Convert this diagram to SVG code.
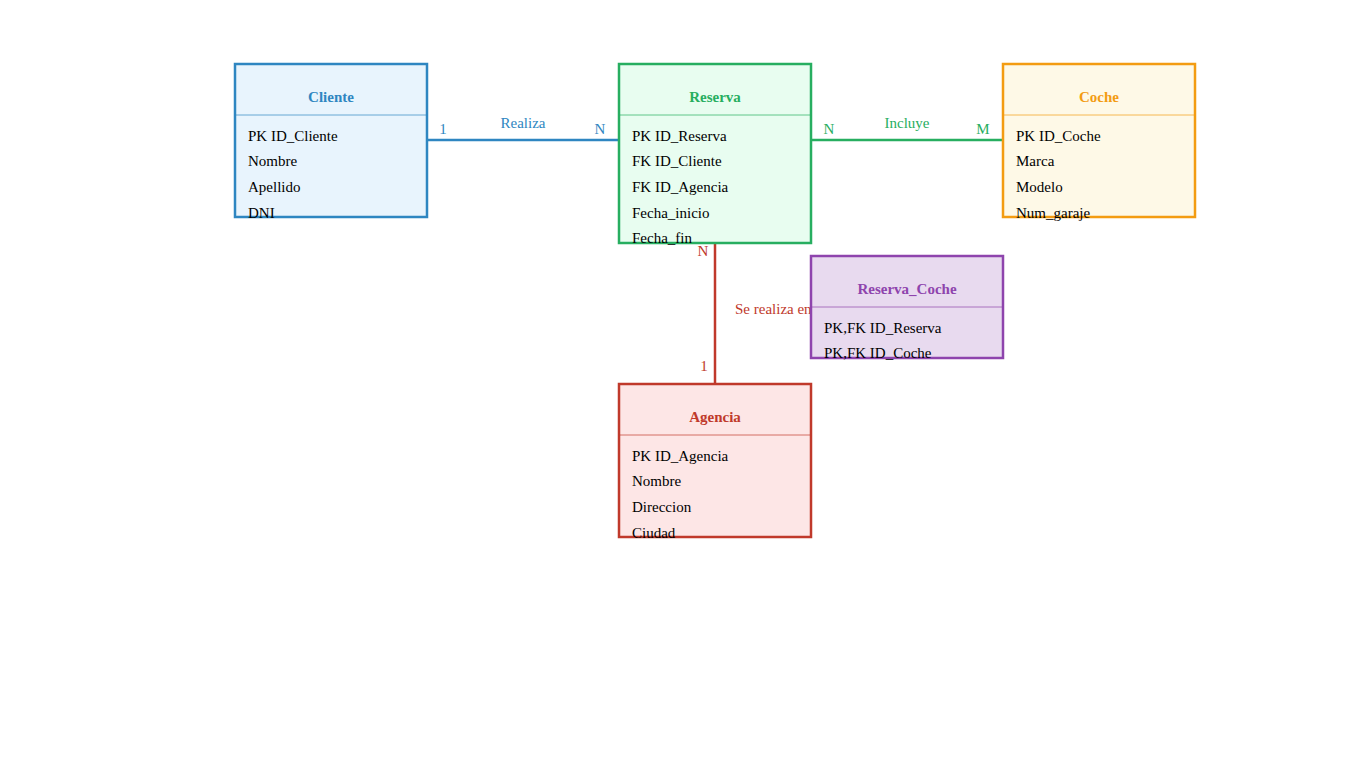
<svg xmlns="http://www.w3.org/2000/svg" width="1366" height="768" viewBox="0 0 1366 768">
<style>
text{font-family:"Liberation Serif","Times New Roman",serif;font-size:15px}
.t{font-weight:bold;text-anchor:middle}
.a{fill:#000}
.box{stroke-width:2.5}
.div{stroke-width:1}
.lbl{text-anchor:middle}
</style>
<rect width="1366" height="768" fill="#fff"/>
<g id="connectors">
<line x1="427" y1="140" x2="619" y2="140" stroke="#2E86C1" stroke-width="2.5"/>
<text x="443" y="134" fill="#2E86C1" class="lbl">1</text>
<text x="523" y="128" fill="#2E86C1" class="lbl">Realiza</text>
<text x="600" y="134" fill="#2E86C1" class="lbl">N</text>
<line x1="811" y1="140" x2="1003" y2="140" stroke="#27AE60" stroke-width="2.5"/>
<text x="829" y="134" fill="#27AE60" class="lbl">N</text>
<text x="907" y="128" fill="#27AE60" class="lbl">Incluye</text>
<text x="983" y="134" fill="#27AE60" class="lbl">M</text>
<line x1="715" y1="243" x2="715" y2="384" stroke="#C0392B" stroke-width="2.5"/>
<text x="703" y="256" fill="#C0392B" class="lbl">N</text>
<text x="704" y="371" fill="#C0392B" class="lbl">1</text>
<text x="735" y="314" fill="#C0392B">Se realiza en</text>
</g>
<g id="cliente">
<rect x="235" y="64" width="192" height="153" fill="#E8F4FD" stroke="#2E86C1" class="box"/>
<line x1="236" y1="115" x2="426" y2="115" stroke="#2E86C1" stroke-opacity="0.7" class="div"/>
<text x="331" y="102" fill="#2E86C1" class="t">Cliente</text>
<text x="248" y="141" class="a">PK ID_Cliente</text>
<text x="248" y="166" class="a">Nombre</text>
<text x="248" y="192" class="a">Apellido</text>
<text x="248" y="218" class="a">DNI</text>
</g>
<g id="reserva">
<rect x="619" y="64" width="192" height="179" fill="#E8FDF0" stroke="#27AE60" class="box"/>
<line x1="620" y1="115" x2="810" y2="115" stroke="#27AE60" stroke-opacity="0.7" class="div"/>
<text x="715" y="102" fill="#27AE60" class="t">Reserva</text>
<text x="632" y="141" class="a">PK ID_Reserva</text>
<text x="632" y="166" class="a">FK ID_Cliente</text>
<text x="632" y="192" class="a">FK ID_Agencia</text>
<text x="632" y="218" class="a">Fecha_inicio</text>
<text x="632" y="243" class="a">Fecha_fin</text>
</g>
<g id="coche">
<rect x="1003" y="64" width="192" height="153" fill="#FEF9E7" stroke="#F39C12" class="box"/>
<line x1="1004" y1="115" x2="1194" y2="115" stroke="#F39C12" stroke-opacity="0.7" class="div"/>
<text x="1099" y="102" fill="#F39C12" class="t">Coche</text>
<text x="1016" y="141" class="a">PK ID_Coche</text>
<text x="1016" y="166" class="a">Marca</text>
<text x="1016" y="192" class="a">Modelo</text>
<text x="1016" y="218" class="a">Num_garaje</text>
</g>
<g id="reserva_coche">
<rect x="811" y="256" width="192" height="102" fill="#E8DAEF" stroke="#8E44AD" class="box"/>
<line x1="812" y1="307" x2="1002" y2="307" stroke="#8E44AD" stroke-opacity="0.7" class="div"/>
<text x="907" y="294" fill="#8E44AD" class="t">Reserva_Coche</text>
<text x="824" y="333" class="a">PK,FK ID_Reserva</text>
<text x="824" y="358" class="a">PK,FK ID_Coche</text>
</g>
<g id="agencia">
<rect x="619" y="384" width="192" height="153" fill="#FDE6E6" stroke="#C0392B" class="box"/>
<line x1="620" y1="435" x2="810" y2="435" stroke="#C0392B" stroke-opacity="0.7" class="div"/>
<text x="715" y="422" fill="#C0392B" class="t">Agencia</text>
<text x="632" y="461" class="a">PK ID_Agencia</text>
<text x="632" y="486" class="a">Nombre</text>
<text x="632" y="512" class="a">Direccion</text>
<text x="632" y="538" class="a">Ciudad</text>
</g>
</svg>
